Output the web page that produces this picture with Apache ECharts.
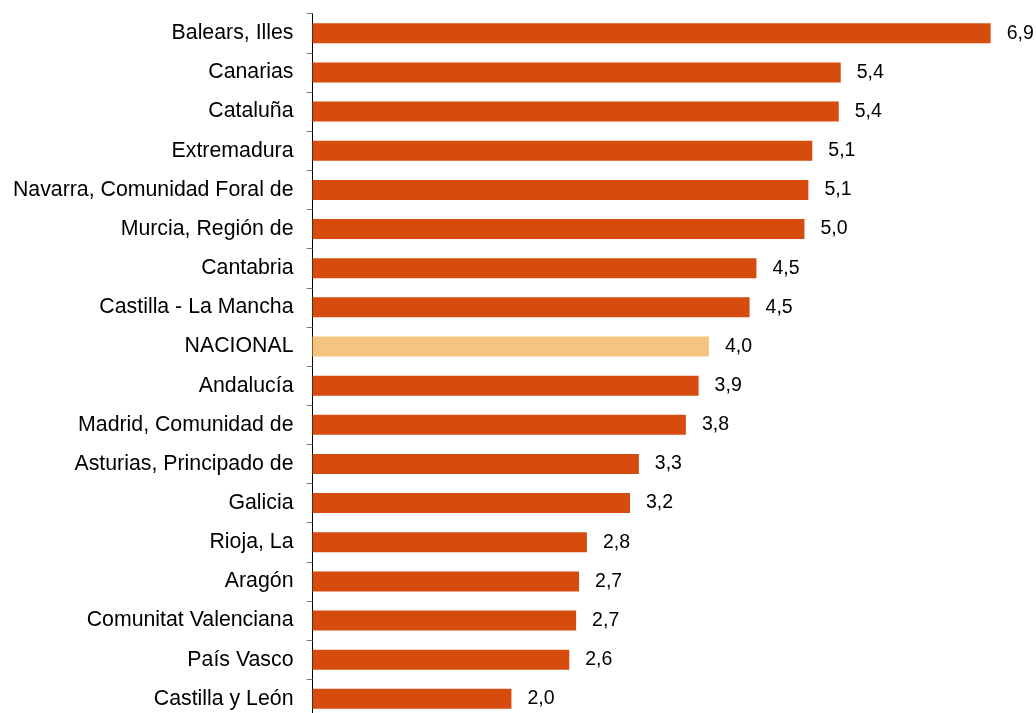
<!DOCTYPE html>
<html>
<head>
<meta charset="utf-8">
<script src="https://cdn.jsdelivr.net/npm/echarts@6/dist/echarts.min.js"></script>
<style>
html,body{margin:0;padding:0;background:#fff;}
#c{width:1036px;height:713px;}
</style>
</head>
<body>
<div id="c"></div>
<script>
const categories = ["Balears, Illes","Canarias","Cataluña","Extremadura","Navarra, Comunidad Foral de","Murcia, Región de","Cantabria","Castilla - La Mancha","NACIONAL","Andalucía","Madrid, Comunidad de","Asturias, Principado de","Galicia","Rioja, La","Aragón","Comunitat Valenciana","País Vasco","Castilla y León"];
const values = [6.92,5.39,5.37,5.10,5.06,5.02,4.53,4.46,4.045,3.94,3.81,3.33,3.24,2.80,2.72,2.69,2.62,2.03];
const highlight = "NACIONAL";

const chart = echarts.init(document.getElementById('c'), null, {renderer:'canvas'});
chart.setOption({
  animation:false,
  backgroundColor:'#ffffff',
  grid:{left:312.5, top:13.7, right:37.5, height:704.7, containLabel:false, outerBoundsMode:'none'},
  xAxis:{type:'value', min:0, max:7, show:false, splitLine:{show:false}},
  yAxis:{
    type:'category', data:categories, inverse:true,
    axisLine:{show:true, lineStyle:{color:'#000', width:1}},
    axisTick:{show:true, length:6, lineStyle:{color:'#808080', width:1}},
    axisLabel:{color:'#000', fontFamily:'Liberation Sans, Arial', fontSize:21.3, margin:19}
  },
  series:[{
    type:'bar', barWidth:20,
    data: values.map((v,i)=>({value:v, itemStyle:{color: categories[i]===highlight ? '#F5C580' : '#D64B0E'}})),
    label:{show:true, position:'right', distance:16, color:'#000', fontFamily:'Liberation Sans, Arial', fontSize:19.5,
      formatter:p=>p.value.toFixed(1).replace('.', ',')}
  }]
});
</script>
</body>
</html>
